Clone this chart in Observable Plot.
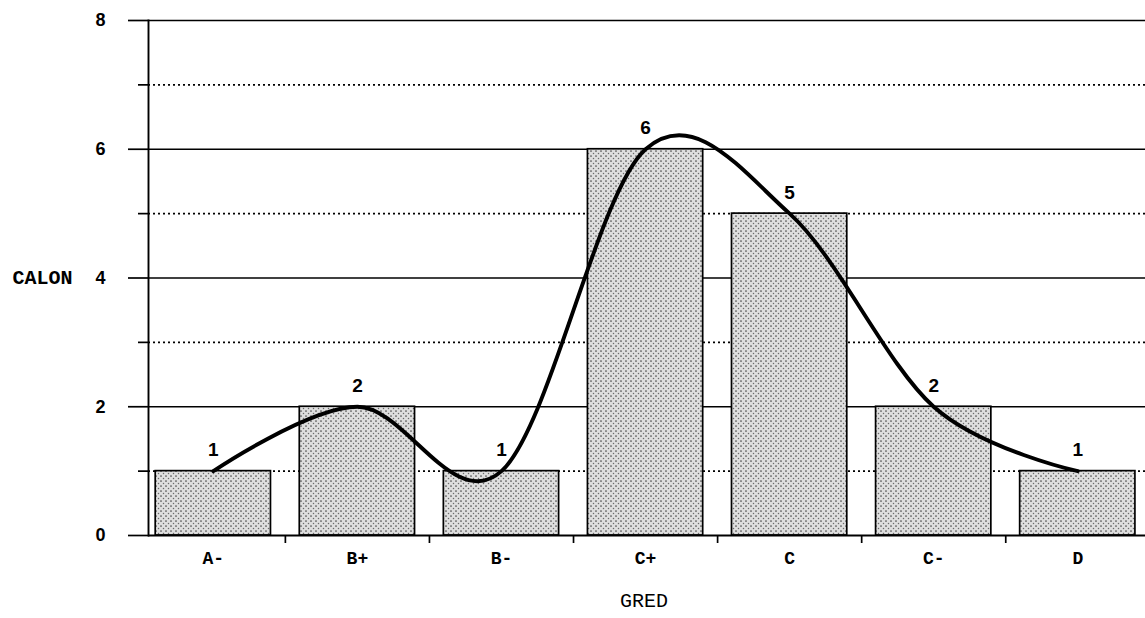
<!DOCTYPE html>
<html>
<head>
<meta charset="utf-8">
<script src="https://cdn.jsdelivr.net/npm/d3@7"></script>
<script src="https://cdn.jsdelivr.net/npm/@observablehq/plot@0.6"></script>
<style>
  html, body { margin: 0; padding: 0; background: #fff; overflow: hidden; }
  #chart { width: 1145px; height: 618px; }
</style>
</head>
<body>
<div id="chart"></div>
<script>
const categories = ["A-", "B+", "B-", "C+", "C", "C-", "D"];
const values = [1, 2, 1, 6, 5, 2, 1];
const majorTicks = [0, 2, 4, 6, 8];
const minorTicks = [1, 3, 5, 7];
const yLabel = "CALON";
const xLabel = "GRED";

const data = categories.map((c, i) => ({ cat: c, i, v: values[i] }));
const boundaries = categories.slice(1).map((c, i) => i + 0.5);

const monoFont = "'Liberation Mono', 'DejaVu Sans Mono', monospace";
const sansFont = "'Liberation Sans', Arial, sans-serif";

const chart = Plot.plot({
  width: 1145,
  height: 618,
  marginLeft: 148,
  marginRight: 0,
  marginTop: 20,
  marginBottom: 83,
  style: { fontFamily: sansFont, fontSize: "15px", background: "#fff", color: "#000" },
  x: { domain: [-0.45, 6.47], axis: null },
  y: { domain: [0, 8], axis: null },
  marks: [
    // gridlines
    Plot.ruleY(majorTicks.filter(d => d > 0), { stroke: "#000", strokeWidth: 1.7 }),
    Plot.ruleY(minorTicks, { stroke: "#000", strokeWidth: 1.7, strokeDasharray: "2,3" }),
    // bars
    Plot.rectY(data, {
      x1: d => d.i - 0.4, x2: d => d.i + 0.4, y1: 0, y2: "v",
      fill: "url(#stipple)", stroke: "#000", strokeWidth: 1.7
    }),
    // baseline and y axis line
    Plot.ruleY([0], { stroke: "#000", strokeWidth: 1.9 }),
    Plot.frame({ anchor: "left", stroke: "#000", strokeWidth: 1.9 }),
    // y axis ticks
    Plot.axisY({ ticks: majorTicks, tickSize: 20, tickFormat: () => "", strokeWidth: 1.7, label: null }),
    Plot.axisY({ ticks: minorTicks, tickSize: 10, tickFormat: () => "", strokeWidth: 1.7, label: null }),
    // y tick labels
    Plot.text(majorTicks, { y: d => d, text: d => String(d), frameAnchor: "left", dx: -43,
      textAnchor: "end", fontSize: 18, fontWeight: "bold", fontFamily: sansFont, fill: "#000" }),
    // x axis boundary ticks
    Plot.axisX({ ticks: boundaries, tickSize: 8, tickFormat: () => "", strokeWidth: 1.7, label: null }),
    // x category labels
    Plot.text(data, { x: "i", text: "cat", frameAnchor: "bottom", dy: 28,
      fontSize: 18, fontWeight: "bold", fontFamily: monoFont, fill: "#000" }),
    // smooth curve
    Plot.line(data, { x: "i", y: "v", curve: "cardinal", stroke: "#000", strokeWidth: 3.9 }),
    // value labels
    Plot.text(data, { x: "i", y: "v", text: d => String(d.v), dy: -21,
      fontSize: 19, fontWeight: "bold", fontFamily: sansFont, fill: "#000" }),
    // axis titles
    Plot.text([{ t: yLabel, v: 4 }], { y: "v", text: "t", frameAnchor: "left", dx: -136,
      textAnchor: "start", fontSize: 20, fontWeight: "bold", fontFamily: monoFont, fill: "#000" }),
    Plot.text([xLabel], { frameAnchor: "bottom", text: d => d, dx: -3, dy: 71,
      fontSize: 20, fontFamily: monoFont, fill: "#000" })
  ]
});

// stipple pattern for the bars
const svg = d3.select(chart.tagName.toLowerCase() === "svg" ? chart : chart.querySelector("svg"));
const defs = svg.insert("defs", ":first-child");
const pat = defs.append("pattern")
  .attr("id", "stipple").attr("patternUnits", "userSpaceOnUse")
  .attr("width", 5).attr("height", 5);
pat.append("rect").attr("width", 5).attr("height", 5).attr("fill", "#dedede");
pat.append("circle").attr("cx", 1).attr("cy", 1).attr("r", 0.85).attr("fill", "#4a4a4a");
pat.append("circle").attr("cx", 3.5).attr("cy", 3.5).attr("r", 0.75).attr("fill", "#6a6a6a");

document.getElementById("chart").appendChild(chart);
</script>
</body>
</html>
